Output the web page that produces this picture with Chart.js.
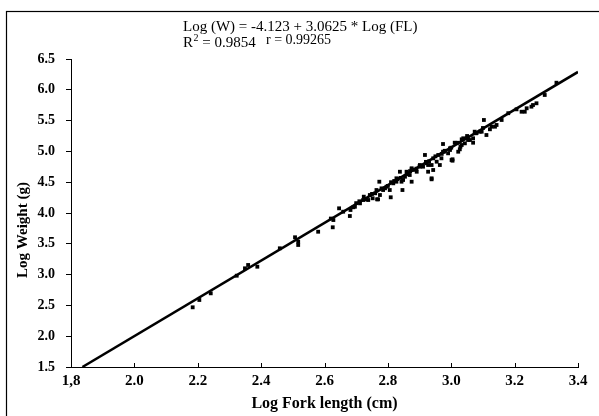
<!DOCTYPE html>
<html>
<head>
<meta charset="utf-8">
<script src="https://cdn.jsdelivr.net/npm/chart.js@4/dist/chart.umd.min.js"></script>
<style>
  html, body { margin: 0; padding: 0; background: #fff; }
  #wrap { width: 599px; height: 416px; position: relative; }
</style>
</head>
<body>
<div id="wrap"><canvas id="c" width="599" height="416"></canvas></div>
<script>
// ---- Data ----
const xTickValues = [1.8, 2.0, 2.2, 2.4, 2.6, 2.8, 3.0, 3.2, 3.4];
const xTickLabels = ['1,8', '2.0', '2.2', '2.4', '2.6', '2.8', '3.0', '3.2', '3.4'];
const yTickValues = [1.5, 2.0, 2.5, 3.0, 3.5, 4.0, 4.5, 5.0, 5.5, 6.0, 6.5];
const yTickLabels = ['1.5', '2.0', '2.5', '3.0', '3.5', '4.0', '4.5', '5.0', '5.5', '6.0', '6.5'];

// observed points: log fork length
const logFL = [
  2.184, 2.205, 2.241, 2.323, 2.349, 2.359, 2.388, 2.459, 2.517, 2.517,
  2.507, 2.580, 2.626, 2.628, 2.646, 2.659, 2.680, 2.682, 2.696, 2.712,
  2.724, 2.738, 2.743, 2.752, 2.766, 2.773, 2.775, 2.785, 2.796, 2.806,
  2.809, 2.817, 2.827, 2.764, 2.791, 2.827, 2.838, 2.843, 2.846, 2.854,
  2.859, 2.875, 2.875, 2.891, 2.901, 2.911, 2.917, 2.922, 2.927, 2.938,
  2.938, 2.943, 2.954, 2.959, 2.969, 2.974, 2.974, 2.990, 2.996, 3.001,
  3.011, 3.022, 3.029, 3.038, 3.043, 3.050, 3.059, 3.069, 3.078, 3.074,
  3.096, 3.103, 3.111, 3.127, 3.143, 3.159, 3.206, 3.222, 3.238, 3.258,
  3.269, 3.295, 3.332, 2.996, 3.004, 3.027, 3.033, 3.053, 3.069, 3.090,
  3.122, 3.138, 3.232, 3.253, 2.691, 2.722, 2.769, 2.848, 2.869, 2.875,
  2.901, 2.927, 2.938, 2.943, 2.964, 2.977, 3.004, 3.033,
  2.700, 2.710, 2.730, 2.750, 2.760, 2.780, 2.800, 2.810, 2.820, 2.830,
  2.840, 2.860, 2.870, 2.880, 2.890, 2.900, 2.920, 2.930, 2.950, 2.970,
  2.980, 3.000, 3.020, 3.050, 3.080, 3.100, 3.180, 2.620
];
// observed points: log weight
const logW = [
  2.469, 2.588, 2.696, 2.982, 3.102, 3.156, 3.128, 3.427, 3.481, 3.534,
  3.606, 3.696, 3.768, 3.886, 4.076, 4.021, 3.951, 4.049, 4.102, 4.157,
  4.265, 4.211, 4.292, 4.239, 4.222, 4.508, 4.292, 4.373, 4.427, 4.373,
  4.255, 4.482, 4.508, 4.373, 4.401, 4.563, 4.670, 4.508, 4.373, 4.589,
  4.670, 4.726, 4.508, 4.670, 4.779, 4.752, 4.942, 4.807, 4.670, 4.779,
  4.563, 4.888, 4.833, 4.942, 4.888, 4.995, 5.120, 4.969, 5.050, 4.860,
  5.141, 4.995, 5.076, 5.213, 5.131, 5.250, 5.185, 5.213, 5.294, 5.320,
  5.320, 5.510, 5.266, 5.401, 5.429, 5.510, 5.683, 5.644, 5.700, 5.753,
  5.781, 5.916, 6.115, 5.023, 4.872, 5.034, 5.196, 5.185, 5.141, 5.320,
  5.359, 5.401, 5.644, 5.726, 4.093, 4.211, 4.222, 4.536, 4.617, 4.709,
  4.752, 4.779, 4.547, 4.698, 4.779, 4.995, 4.849, 5.104,
  4.160, 4.190, 4.220, 4.310, 4.320, 4.400, 4.440, 4.500, 4.520, 4.550,
  4.570, 4.630, 4.680, 4.700, 4.720, 4.760, 4.830, 4.840, 4.920, 4.960,
  5.010, 5.060, 5.140, 5.220, 5.300, 5.380, 5.620, 3.910
];
// regression line end points (Log W = -4.123 + 3.0625 * Log FL)
const fitX = [1.836, 3.400];
const fitY = [1.500, 6.290];

const equationLine1 = 'Log (W) = -4.123 + 3.0625 * Log (FL)';
const equationR2Base = 'R';
const equationR2Sup = '2';
const equationR2Value = ' = 0.9854';
const equationR = 'r = 0.99265';
const yTitle = 'Log Weight (g)';

const points = logFL.map((x, i) => ({ x: x, y: logW[i] }));
const fitPoints = fitX.map((x, i) => ({ x: x, y: fitY[i] }));

const SERIF = '"Liberation Serif", "Times New Roman", serif';

const decorPlugin = {
  id: 'decor',
  beforeDraw(chart) {
    const ctx = chart.ctx;
    ctx.save();
    ctx.fillStyle = '#fff';
    ctx.fillRect(0, 0, chart.width, chart.height);
    ctx.restore();
  },
  afterDraw(chart) {
    const ctx = chart.ctx;
    const xs = chart.scales.x;
    ctx.save();
    // outer frame (only top/left edges visible)
    ctx.strokeStyle = '#000';
    ctx.lineWidth = 1.2;
    ctx.strokeRect(6.5, 11.5, 700, 500);
    // inside tick marks on x axis
    ctx.lineWidth = 1;
    ctx.beginPath();
    xTickValues.forEach(v => {
      const px = Math.round(xs.getPixelForValue(v)) + 0.5;
      ctx.moveTo(px, xs.top);
      ctx.lineTo(px, xs.top - 4);
    });
    ctx.stroke();
    // equation text
    ctx.fillStyle = '#000';
    ctx.textBaseline = 'alphabetic';
    ctx.textAlign = 'left';
    ctx.font = '15px ' + SERIF;
    ctx.fillText(equationLine1, 183, 31);
    let x = 183;
    ctx.fillText(equationR2Base, x, 47);
    x += ctx.measureText(equationR2Base).width;
    ctx.font = '10px ' + SERIF;
    ctx.fillText(equationR2Sup, x + 0.5, 41);
    x += ctx.measureText(equationR2Sup).width + 0.5;
    ctx.font = '15px ' + SERIF;
    ctx.fillText(equationR2Value, x, 47);
    ctx.font = '14px ' + SERIF;
    ctx.fillText(equationR, 266, 44);
    // y axis title
    ctx.translate(23, 230);
    ctx.rotate(-Math.PI / 2);
    ctx.textAlign = 'center';
    ctx.textBaseline = 'middle';
    ctx.font = 'bold 15px ' + SERIF;
    ctx.fillText(yTitle, 0, 0);
    ctx.restore();
  }
};

new Chart(document.getElementById('c'), {
  type: 'scatter',
  data: {
    datasets: [
      {
        type: 'line',
        data: fitPoints,
        borderColor: '#000',
        borderWidth: 2.5,
        pointRadius: 0,
        fill: false,
        order: 1
      },
      {
        type: 'scatter',
        data: points,
        pointStyle: 'rect',
        pointRadius: 2.7,
        pointBorderWidth: 0,
        backgroundColor: '#000',
        borderColor: '#000',
        order: 2
      }
    ]
  },
  options: {
    responsive: false,
    animation: false,
    devicePixelRatio: 1,
    layout: { padding: { left: 0, top: 59, right: 21, bottom: 0 } },
    plugins: { legend: { display: false }, tooltip: { enabled: false } },
    scales: {
      x: {
        type: 'linear',
        min: 1.8, max: 3.4,
        afterBuildTicks(scale) { scale.ticks = xTickValues.map(v => ({ value: v })); },
        afterFit(scale) { scale.height = 49; },
        grid: { display: true, drawOnChartArea: false, drawTicks: false },
        border: { color: '#000', width: 1 },
        ticks: {
          color: '#000',
          padding: 5,
          maxRotation: 0,
          autoSkip: false,
          font: { family: SERIF, size: 15, weight: 'bold' },
          callback(value) {
            const i = xTickValues.findIndex(v => Math.abs(v - value) < 1e-6);
            return i >= 0 ? xTickLabels[i] : '';
          }
        },
        title: {
          display: true,
          text: 'Log Fork length (cm)',
          color: '#000',
          font: { family: SERIF, size: 16, weight: 'bold' },
          padding: { top: 0, bottom: 3 }
        }
      },
      y: {
        type: 'linear',
        min: 1.5, max: 6.5,
        afterBuildTicks(scale) { scale.ticks = yTickValues.map(v => ({ value: v })); },
        afterFit(scale) { scale.width = 71; },
        grid: { display: true, drawOnChartArea: false, drawTicks: true, tickLength: 5, color: '#000' },
        border: { color: '#000', width: 1 },
        ticks: {
          color: '#000',
          padding: 11,
          autoSkip: false,
          font: { family: SERIF, size: 14, weight: 'bold' },
          callback(value) {
            const i = yTickValues.findIndex(v => Math.abs(v - value) < 1e-6);
            return i >= 0 ? yTickLabels[i] : '';
          }
        },
        title: { display: false }
      }
    }
  },
  plugins: [decorPlugin]
});
</script>
</body>
</html>
